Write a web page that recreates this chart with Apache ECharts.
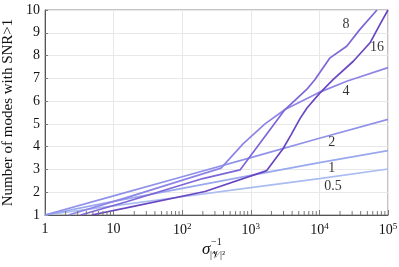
<!DOCTYPE html>
<html><head><meta charset="utf-8">
<script src="https://cdn.jsdelivr.net/npm/echarts@6/dist/echarts.min.js"></script>
<style>html,body{margin:0;padding:0;background:#fff}#c{width:399px;height:267px}</style>
</head><body><div id="c"></div>
<script>
// ---- data ----
const xTicks = [1, 10, 100, 1000, 10000, 100000];
const xTickLabels = ['1', '10', '10{sup|2}', '10{sup|3}', '10{sup|4}', '10{sup|5}'];
const yTickLabels = ['1','2','3','4','5','6','7','8','9','10'];
const minorTicks = [2,3,4,5,6,7,8,9,20,30,40,50,60,70,80,90,200,300,400,500,600,700,800,900,
  2000,3000,4000,5000,6000,7000,8000,9000,20000,30000,40000,50000,60000,70000,80000,90000];
const seriesNames = ['0.5', '1', '2', '4', '8', '16'];
const s05 = [[1,1],[10,1.4],[100,1.8],[1000,2.2],[10000,2.6],[100000,3.02]];
const s1  = [[1,1],[10,1.6],[100,2.17],[1000,2.74],[10000,3.3],[100000,3.83]];
const s2  = [[1,1],[10,1.84],[100,2.68],[1000,3.52],[10000,4.37],[100000,5.2]];
const s4  = [[2.2,1],[15,1.75],[215,2.84],[368,3.06],[770,4.12],[1610,5.0],[3150,5.63],[9550,6.36],[25000,6.87],[100000,7.47]];
const s8  = [[3.3,1],[15,1.57],[200,2.6],[696,2.98],[1720,4.57],[3150,5.63],[6530,6.51],[8630,6.95],[14280,7.9],[25000,8.41],[39000,9.15],[69000,10]];
const s16 = [[4.8,1],[14.7,1.3],[215,2.03],[1706,2.95],[2947,3.91],[3855,4.52],[5212,5.23],[6590,5.7],[10200,6.36],[15950,6.95],[31200,7.75],[54700,8.56],[76400,9.37],[100000,10]];
const lineLabels = [[15800,2.28,'0.5'],[15200,3.03,'1'],[15200,4.17,'2'],[24400,6.42,'4'],[24400,9.37,'8'],[69000,8.36,'16']];

// ---- styles ----
const colors = ['#aabdf0', '#9aa8ee', '#9092ea', '#8e84e8', '#7f66d8', '#6946c2'];
const FONT = 'Liberation Serif';
const allData = [s05, s1, s2, s4, s8, s16];

const chart = echarts.init(document.getElementById('c'), null, {renderer: 'canvas'});
const series = allData.map((d, i) => ({
  name: seriesNames[i], type: 'line', data: d, showSymbol: false, symbol: 'none',
  lineStyle: {color: colors[i], width: 1.7}, z: 3 + i, animation: false
}));
series.push({
  type: 'custom', silent: true, z: 20, animation: false,
  data: minorTicks.map(v => [v, 1]),
  renderItem: (params, api) => {
    const p = api.coord([api.value(0), 1]);
    return {type: 'line', shape: {x1: p[0], y1: p[1], x2: p[0], y2: p[1] - 4}, style: {stroke: '#777', lineWidth: 1}};
  }
});
series.push({
  type: 'scatter', symbolSize: 0, silent: true, z: 30, animation: false,
  data: lineLabels,
  label: {show: true, position: 'inside', formatter: p => p.data[2], color: '#000', fontSize: 14, fontFamily: FONT}
});

chart.setOption({
  backgroundColor: '#fff',
  animation: false,
  grid: {left: 45, right: 11, top: 10, bottom: 52, show: true, borderColor: '#8a8a8a', borderWidth: 1,
    containLabel: false, outerBoundsMode: 'none'},
  xAxis: {
    type: 'log', logBase: 10, min: 1, max: 100000,
    axisLine: {show: true, lineStyle: {color: '#555', width: 1}},
    axisTick: {show: true, inside: true, length: 5, lineStyle: {color: '#777'}},
    splitLine: {show: true, lineStyle: {color: '#e8e8e8', width: 1}},
    axisLabel: {
      color: '#111', fontSize: 14, fontFamily: FONT, margin: 7,
      formatter: v => { const k = Math.round(Math.log10(v)); return xTickLabels[k] || ''; },
      rich: {sup: {fontSize: 9, fontFamily: FONT, color: '#111', verticalAlign: 'top', padding: [0, 0, 8, 0]}}
    }
  },
  yAxis: {
    type: 'value', min: 1, max: 10, interval: 1,
    name: 'Number of modes with SNR>1', nameLocation: 'middle', nameGap: 26, nameRotate: 90,
    nameTextStyle: {color: '#111', fontSize: 15, fontFamily: FONT},
    axisLine: {show: true, lineStyle: {color: '#555', width: 1}},
    axisTick: {show: true, inside: true, length: 3, lineStyle: {color: '#777'}},
    splitLine: {show: true, lineStyle: {color: '#e8e8e8', width: 1}},
    axisLabel: {color: '#111', fontSize: 14, fontFamily: FONT, margin: 5,
      formatter: v => yTickLabels[Math.round(v) - 1] || ''}
  },
  graphic: [
    {type: 'text', left: 202, top: 241, style: {text: 'σ', font: 'italic 17px ' + FONT, fill: '#111'}},
    {type: 'text', left: 211, top: 237, style: {text: '−1', font: '10px ' + FONT, fill: '#111'}},
    {type: 'text', left: 210, top: 250, style: {text: '|𝒱|²', font: '10px ' + FONT, fill: '#111'}}
  ],
  series: series
});
</script></body></html>
